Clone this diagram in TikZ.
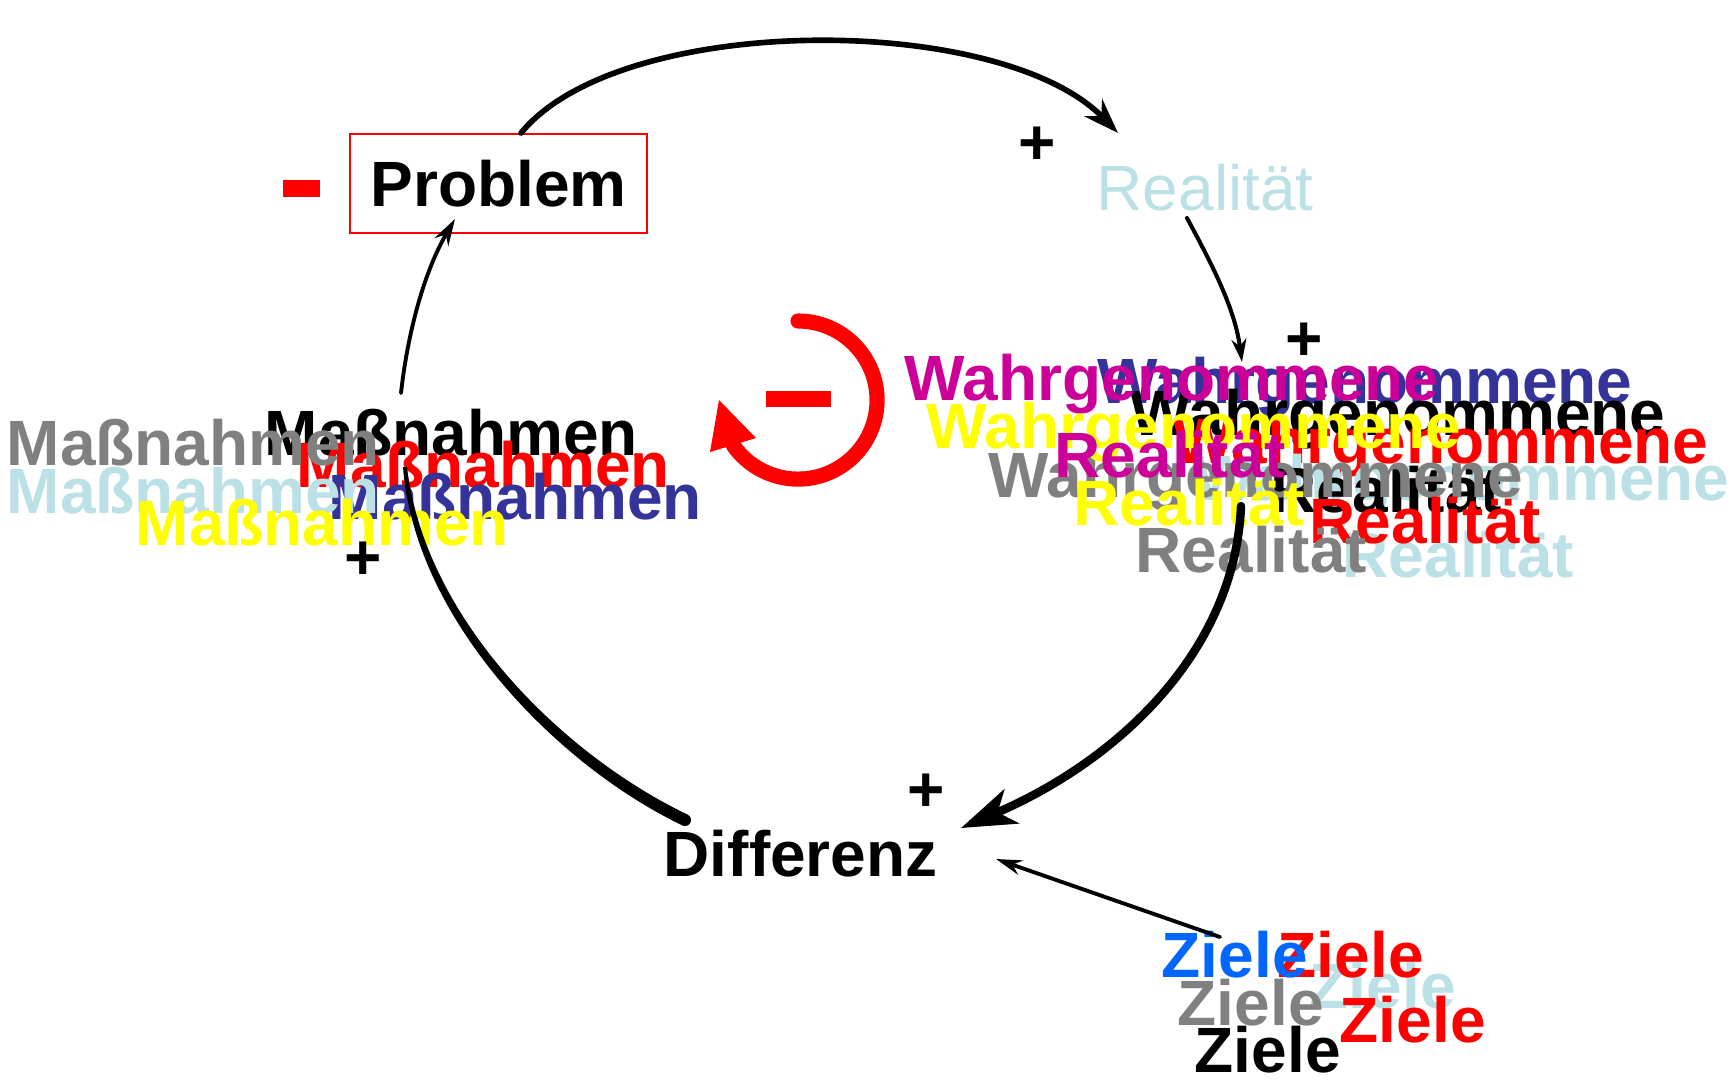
\documentclass[tikz,border=0pt]{standalone}
\usepackage{fontspec}
\setmainfont{Liberation Sans}
\usetikzlibrary{arrows.meta}

\definecolor{hellblau}{RGB}{187,224,229}
\definecolor{dunkelblau}{RGB}{51,51,153}
\definecolor{violett}{RGB}{204,0,153}
\definecolor{blau}{RGB}{0,102,255}
\definecolor{grau}{RGB}{128,128,128}
\definecolor{gelb}{RGB}{255,255,0}
\definecolor{rot}{RGB}{255,0,0}

\tikzset{
  txt/.style={anchor=base west, inner sep=0pt, font=\fontsize{18.2}{20}\selectfont\bfseries},
  txtreg/.style={anchor=base west, inner sep=0pt, font=\fontsize{18.2}{20}\selectfont},
  vz/.style={inner sep=0pt, font=\fontsize{18.2}{20}\selectfont\bfseries},
  kante/.style={draw=black, line cap=round},
}

\begin{document}
\begin{tikzpicture}[x=0.01cm, y=-0.01cm]

  % Bounding box of the scheme
  \useasboundingbox (0,0) rectangle (1731,1078);

  %%%%%%%%%%%%%%%%%%%%%%%%%%%%%%%%% Problem %%%%%%%%%%%%%%%%%%%%%%%%%%%%%%%%%%%%
  \draw (498.5,183.5) node[draw=rot, line width=0.6pt, minimum width=2.97cm, minimum height=0.99cm,
        inner sep=0pt, font=\fontsize{18.2}{20}\selectfont\bfseries] (problem) {Problem};
  \fill[rot] (283,180) rectangle (320,197);

  %%%%%%%%%%%%%%%%%%%%%%%%%%%%%%%%% Realitaet %%%%%%%%%%%%%%%%%%%%%%%%%%%%%%%%%%%%
  \draw (1096,210) node[txtreg, hellblau] (realitaet) {Realität};

  %%%%%%%%%%%%%%%%%%%%%%%%%%%%%%%%% Massnahmen %%%%%%%%%%%%%%%%%%%%%%%%%%%%%%%%%%%%
  \draw (264,455) node[txt, black] (mass1) {Maßnahmen};
  \draw (296,487) node[txt, rot] (mass2) {Maßnahmen};
  \draw (6,465) node[txt, grau] (mass3) {Maßnahmen};
  \draw (328,519) node[txt, dunkelblau] (mass4) {Maßnahmen};
  \draw (6,513) node[txt, hellblau] (mass5) {Maßnahmen};
  \draw (135,545) node[txt, gelb] (mass6) {Maßnahmen};

  %%%%%%%%%%%%%%%%%%%%%%%%%%%%%%%%% Wahrgenommene Realitaet %%%%%%%%%%%%%%%%%%%%%%%%%%%%%%%%%%%%
  \draw (1097,403) node[txt, dunkelblau] (wahr1) {Wahrgenommene};
  \draw (1130,435) node[txt, black] (wahr2) {Wahrgenommene};
  \draw (1173,463) node[txt, rot] (wahr3) {Wahrgenommene};
  \draw (1194,500) node[txt, hellblau] (wahr4) {Wahrgenommene};
  \draw (1270,512) node[txt, black] (real1) {Realität};
  \draw (988,497) node[txt, grau] (wahr5) {Wahrgenommene};
  \draw (904,400) node[txt, violett] (wahr6) {Wahrgenommene};
  \draw (926,448) node[txt, gelb] (wahr7) {Wahrgenommene};
  \draw (1054,477) node[txt, violett] (real2) {Realität};
  \draw (1073,525) node[txt, gelb] (real3) {Realität};
  \draw (1342,577) node[txt, hellblau] (real4) {Realität};
  \draw (1309,543) node[txt, rot] (real5) {Realität};
  \draw (1135,572) node[txt, grau] (real6) {Realität};

  %%%%%%%%%%%%%%%%%%%%%%%%%%%%%%%%% Differenz und Ziele %%%%%%%%%%%%%%%%%%%%%%%%%%%%%%%%%%%%
  \draw (663,876) node[txt, black] (diff) {Differenz};

  \draw (1309,1008) node[txt, hellblau] (ziel1) {Ziele};
  \draw (1277,977) node[txt, rot] (ziel2) {Ziele};
  \draw (1161,977) node[txt, blau] (ziel3) {Ziele};
  \draw (1177,1025) node[txt, grau] (ziel4) {Ziele};
  \draw (1339,1042) node[txt, rot] (ziel5) {Ziele};
  \draw (1194,1072) node[txt, black] (ziel6) {Ziele};

  %%%%%%%%%%%%%%%%%%%%%%%%%%%%%%%%% Vorzeichen %%%%%%%%%%%%%%%%%%%%%%%%%%%%%%%%%%%%
  \draw (1037,146) node[vz] (vz1) {+};
  \draw (1304,342) node[vz] (vz2) {+};
  \draw (926,793) node[vz] (vz3) {+};
  \draw (363,561) node[vz] (vz4) {+};

  %%%%%%%%%%%%%%%%%%%%%%%%%%%%%%%%% Kreislauf %%%%%%%%%%%%%%%%%%%%%%%%%%%%%%%%%%%%
  \coordinate (a1) at (521,133);
  \coordinate (a2) at (1118,133);
  \coordinate (b1) at (1187,218);
  \coordinate (b2) at (1242,362);
  \coordinate (c1) at (1241,506);
  \coordinate (c2) at (961,828);
  \coordinate (d1) at (685,820);
  \coordinate (d2) at (405,467);
  \coordinate (e1) at (401,393);
  \coordinate (e2) at (455,219);
  \coordinate (f1) at (1220,937);
  \coordinate (f2) at (996,859);

  % Problem -> Realitaet
  \draw[kante, line width=1.6pt, -{Stealth[length=10pt, width=7pt, inset=3.2pt]}]
    (a1) .. controls (620,12) and (1000,12) .. (a2);
  % Realitaet -> Wahrgenommene
  \draw[kante, line width=1.15pt, -{Stealth[length=6.5pt, width=4.2pt, inset=2pt]}]
    (b1) .. controls (1215,270) and (1235,310) .. (b2);
  % Wahrgenommene -> Differenz
  \draw[kante, line width=2.4pt, -{Stealth[length=15.6pt, width=10.5pt, inset=4.3pt]}]
    (c1) .. controls (1235,650) and (1120,760) .. (c2);
  % Differenz -> Massnahmen
  \fill (407,467) .. controls (425,619.5) and (562.6,754.6) .. (687.6,814.6)
    -- (682.4,825.4) .. controls (557.4,765.4) and (415,620.5) .. (403,467) -- cycle;
  \fill (d1) circle[radius=0.06cm];
  % Massnahmen -> Problem
  \draw[kante, line width=1.1pt, -{Stealth[length=7.6pt, width=4.5pt, inset=2.5pt]}]
    (e1) .. controls (408,330) and (425,270) .. (e2);
  % Ziele -> Differenz
  \draw[kante, line width=1.1pt, -{Stealth[length=7.4pt, width=4.3pt, inset=2.5pt]}]
    (f1) -- (f2);

  %%%%%%%%%%%%%%%%%%%%%%%%%%%%%%%%% Balancierende Schleife %%%%%%%%%%%%%%%%%%%%%%%%%%%%%%%%%%%%
  \draw[color=rot, line width=4.3pt, line cap=round] (798,321) arc[start angle=90, end angle=-145, radius=0.79cm];
  \fill[rot] (719,400) -- (710,452) -- (756,438) -- cycle;
  \fill[rot] (766,391) rectangle (831,407);

\end{tikzpicture}
\end{document}
